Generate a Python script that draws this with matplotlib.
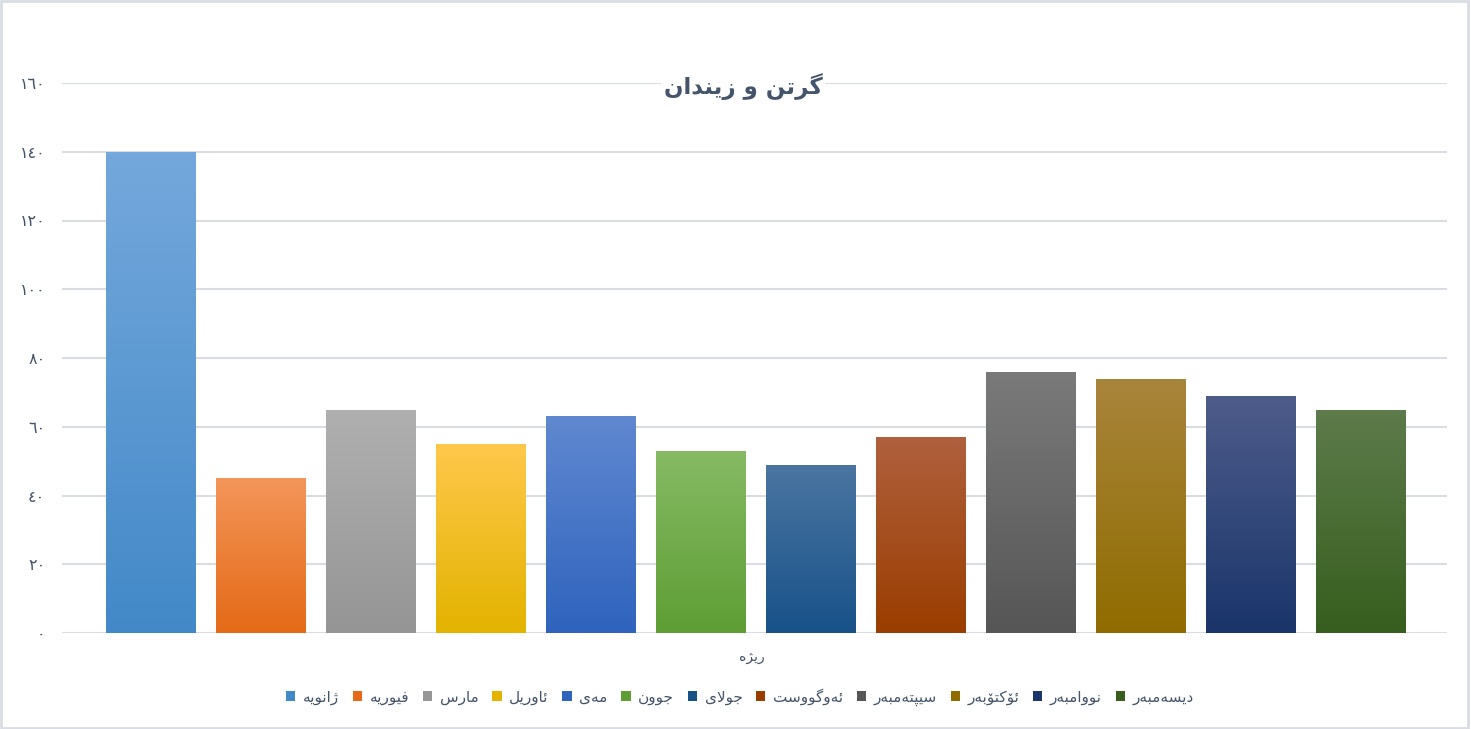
import numpy as np
import matplotlib
matplotlib.use("Agg")
import matplotlib.pyplot as plt
from matplotlib.colors import LinearSegmentedColormap
from matplotlib.patches import Patch, Rectangle

# data
months = ["ژانویە", "فێوریە", "مارس", "ئاوریل", "مەی", "جوون",
          "جولای", "ئەوگووست", "سێپتەمبەر", "ئۆکتۆبەر", "نووامبەر", "دێسەمبەر"]
values = [140, 45, 65, 55, 63, 53, 49, 57, 76, 74, 69, 65]
top_colors = ["#74A8DC", "#F39559", "#B0B0B0", "#FFC84C", "#6088D0", "#86BA64",
              "#4B75A1", "#B0603E", "#7A7A7A", "#A8853C", "#4E5C8A", "#5D7B4B"]
bottom_colors = ["#4389C8", "#E46A17", "#959595", "#E3B300", "#2F63BD", "#5E9E35",
                 "#185289", "#9A3D00", "#565656", "#906C00", "#1A356B", "#375E1E"]
yticks = [0, 20, 40, 60, 80, 100, 120, 140, 160]
ytick_labels = ["٠", "٢٠", "٤٠", "٦٠", "٨٠", "١٠٠", "١٢٠", "١٤٠", "١٦٠"]
title = "گرتن و زیندان"
xlabel = "ڕێژە"

# --- tiny arabic shaper (matplotlib has no shaping / bidi) ---
# char: (isolated, final, initial, medial) ; None for right-joining letters
FORMS = {
    "ا": ("\uFE8D", "\uFE8E", None, None),
    "ب": ("\uFE8F", "\uFE90", "\uFE91", "\uFE92"),
    "ت": ("\uFE95", "\uFE96", "\uFE97", "\uFE98"),
    "ج": ("\uFE9D", "\uFE9E", "\uFE9F", "\uFEA0"),
    "د": ("\uFEA9", "\uFEAA", None, None),
    "ر": ("\uFEAD", "\uFEAE", None, None),
    "ڕ": ("\uFEAD", "\uFEAE", None, None),
    "ز": ("\uFEAF", "\uFEB0", None, None),
    "ژ": ("\uFB8A", "\uFB8B", None, None),
    "س": ("\uFEB1", "\uFEB2", "\uFEB3", "\uFEB4"),
    "ف": ("\uFED1", "\uFED2", "\uFED3", "\uFED4"),
    "ک": ("\uFB8E", "\uFB8F", "\uFB90", "\uFB91"),
    "گ": ("\uFB92", "\uFB93", "\uFB94", "\uFB95"),
    "ل": ("\uFEDD", "\uFEDE", "\uFEDF", "\uFEE0"),
    "م": ("\uFEE1", "\uFEE2", "\uFEE3", "\uFEE4"),
    "ن": ("\uFEE5", "\uFEE6", "\uFEE7", "\uFEE8"),
    "و": ("\uFEED", "\uFEEE", None, None),
    "ۆ": ("\uFBD9", "\uFBDA", None, None),
    "ی": ("\uFBFC", "\uFBFD", "\uFBFE", "\uFBFF"),
    "ێ": ("\u06CE", "\uFBFD", "\uFBFE", "\uFBFF"),
    "ە": ("\uFEE9", "\uFEEA", None, None),
    "ئ": ("\uFE89", "\uFE8A", "\uFE8B", "\uFE8C"),
    "پ": ("\uFB56", "\uFB57", "\uFB58", "\uFB59"),
}


def dual(c):
    return c in FORMS and FORMS[c][2] is not None


def shape(s):
    out = []
    i = 0
    n = len(s)
    while i < n:
        c = s[i]
        if c not in FORMS:
            out.append(c)
            i += 1
            continue
        prev_join = i > 0 and dual(s[i - 1])
        # lam-alef ligature
        if c == "ل" and i + 1 < n and s[i + 1] == "ا":
            out.append("\uFEFC" if prev_join else "\uFEFB")
            i += 2
            continue
        next_join = dual(c) and i + 1 < n and s[i + 1] in FORMS
        iso, fin, ini, med = FORMS[c]
        if prev_join and next_join:
            out.append(med)
        elif prev_join:
            out.append(fin)
        elif next_join:
            out.append(ini)
        else:
            out.append(iso)
        i += 1
    return "".join(out)[::-1]


txt = "#44546A"
grid = "#D9DDE3"

fig = plt.figure(figsize=(14.71, 7.29), dpi=100)
ax = fig.add_axes([62 / 1471, 1 - 633 / 729, 1385 / 1471, 550 / 729])

x = np.arange(len(values))
bars = ax.bar(x, values, width=0.818, color="none", zorder=2)
for b, c1, c2 in zip(bars, top_colors, bottom_colors):
    cmap = LinearSegmentedColormap.from_list("g", [c1, c2])
    x0, y0 = b.get_x(), b.get_y()
    w, h = b.get_width(), b.get_height()
    im = ax.imshow(np.linspace(0, 1, 100).reshape(-1, 1), cmap=cmap, aspect="auto",
                   extent=[x0, x0 + w, y0, y0 + h], origin="upper", zorder=2)
    im.set_clip_path(b)

ax.set_xlim(-0.805, 11.786)
ax.set_ylim(0, 160)
ax.set_yticks(yticks)
ax.set_yticklabels(ytick_labels, fontsize=11.5, color=txt)
ax.set_xticks([])
ax.tick_params(axis="y", length=0, pad=12)
for s in ax.spines.values():
    s.set_visible(False)
ax.grid(axis="y", color=grid, linewidth=1.5, zorder=0)
ax.set_axisbelow(True)

fig.text(743 / 1471, 1 - 87 / 729, shape(title), ha="center", va="center",
         fontsize=16.5, fontweight="bold", color=txt, zorder=5,
         bbox=dict(facecolor="white", edgecolor="none", pad=2))
fig.text(752 / 1471, 1 - 657 / 729, shape(xlabel), ha="center", va="center",
         fontsize=10, color=txt)

handles = [Patch(facecolor=c, edgecolor="none") for c in bottom_colors]
fig.legend(handles, [shape(m) for m in months], loc="center",
           bbox_to_anchor=(740 / 1471, 1 - 697 / 729), ncol=12, frameon=False,
           fontsize=11, handlelength=0.6, handleheight=0.6, handletextpad=0.5,
           columnspacing=0.9, labelcolor=txt)

fig.patches.append(Rectangle((0.001, 0.002), 0.997, 0.996, transform=fig.transFigure,
                             fill=False, edgecolor=grid, linewidth=2))

fig.savefig("out.png", dpi=100)
